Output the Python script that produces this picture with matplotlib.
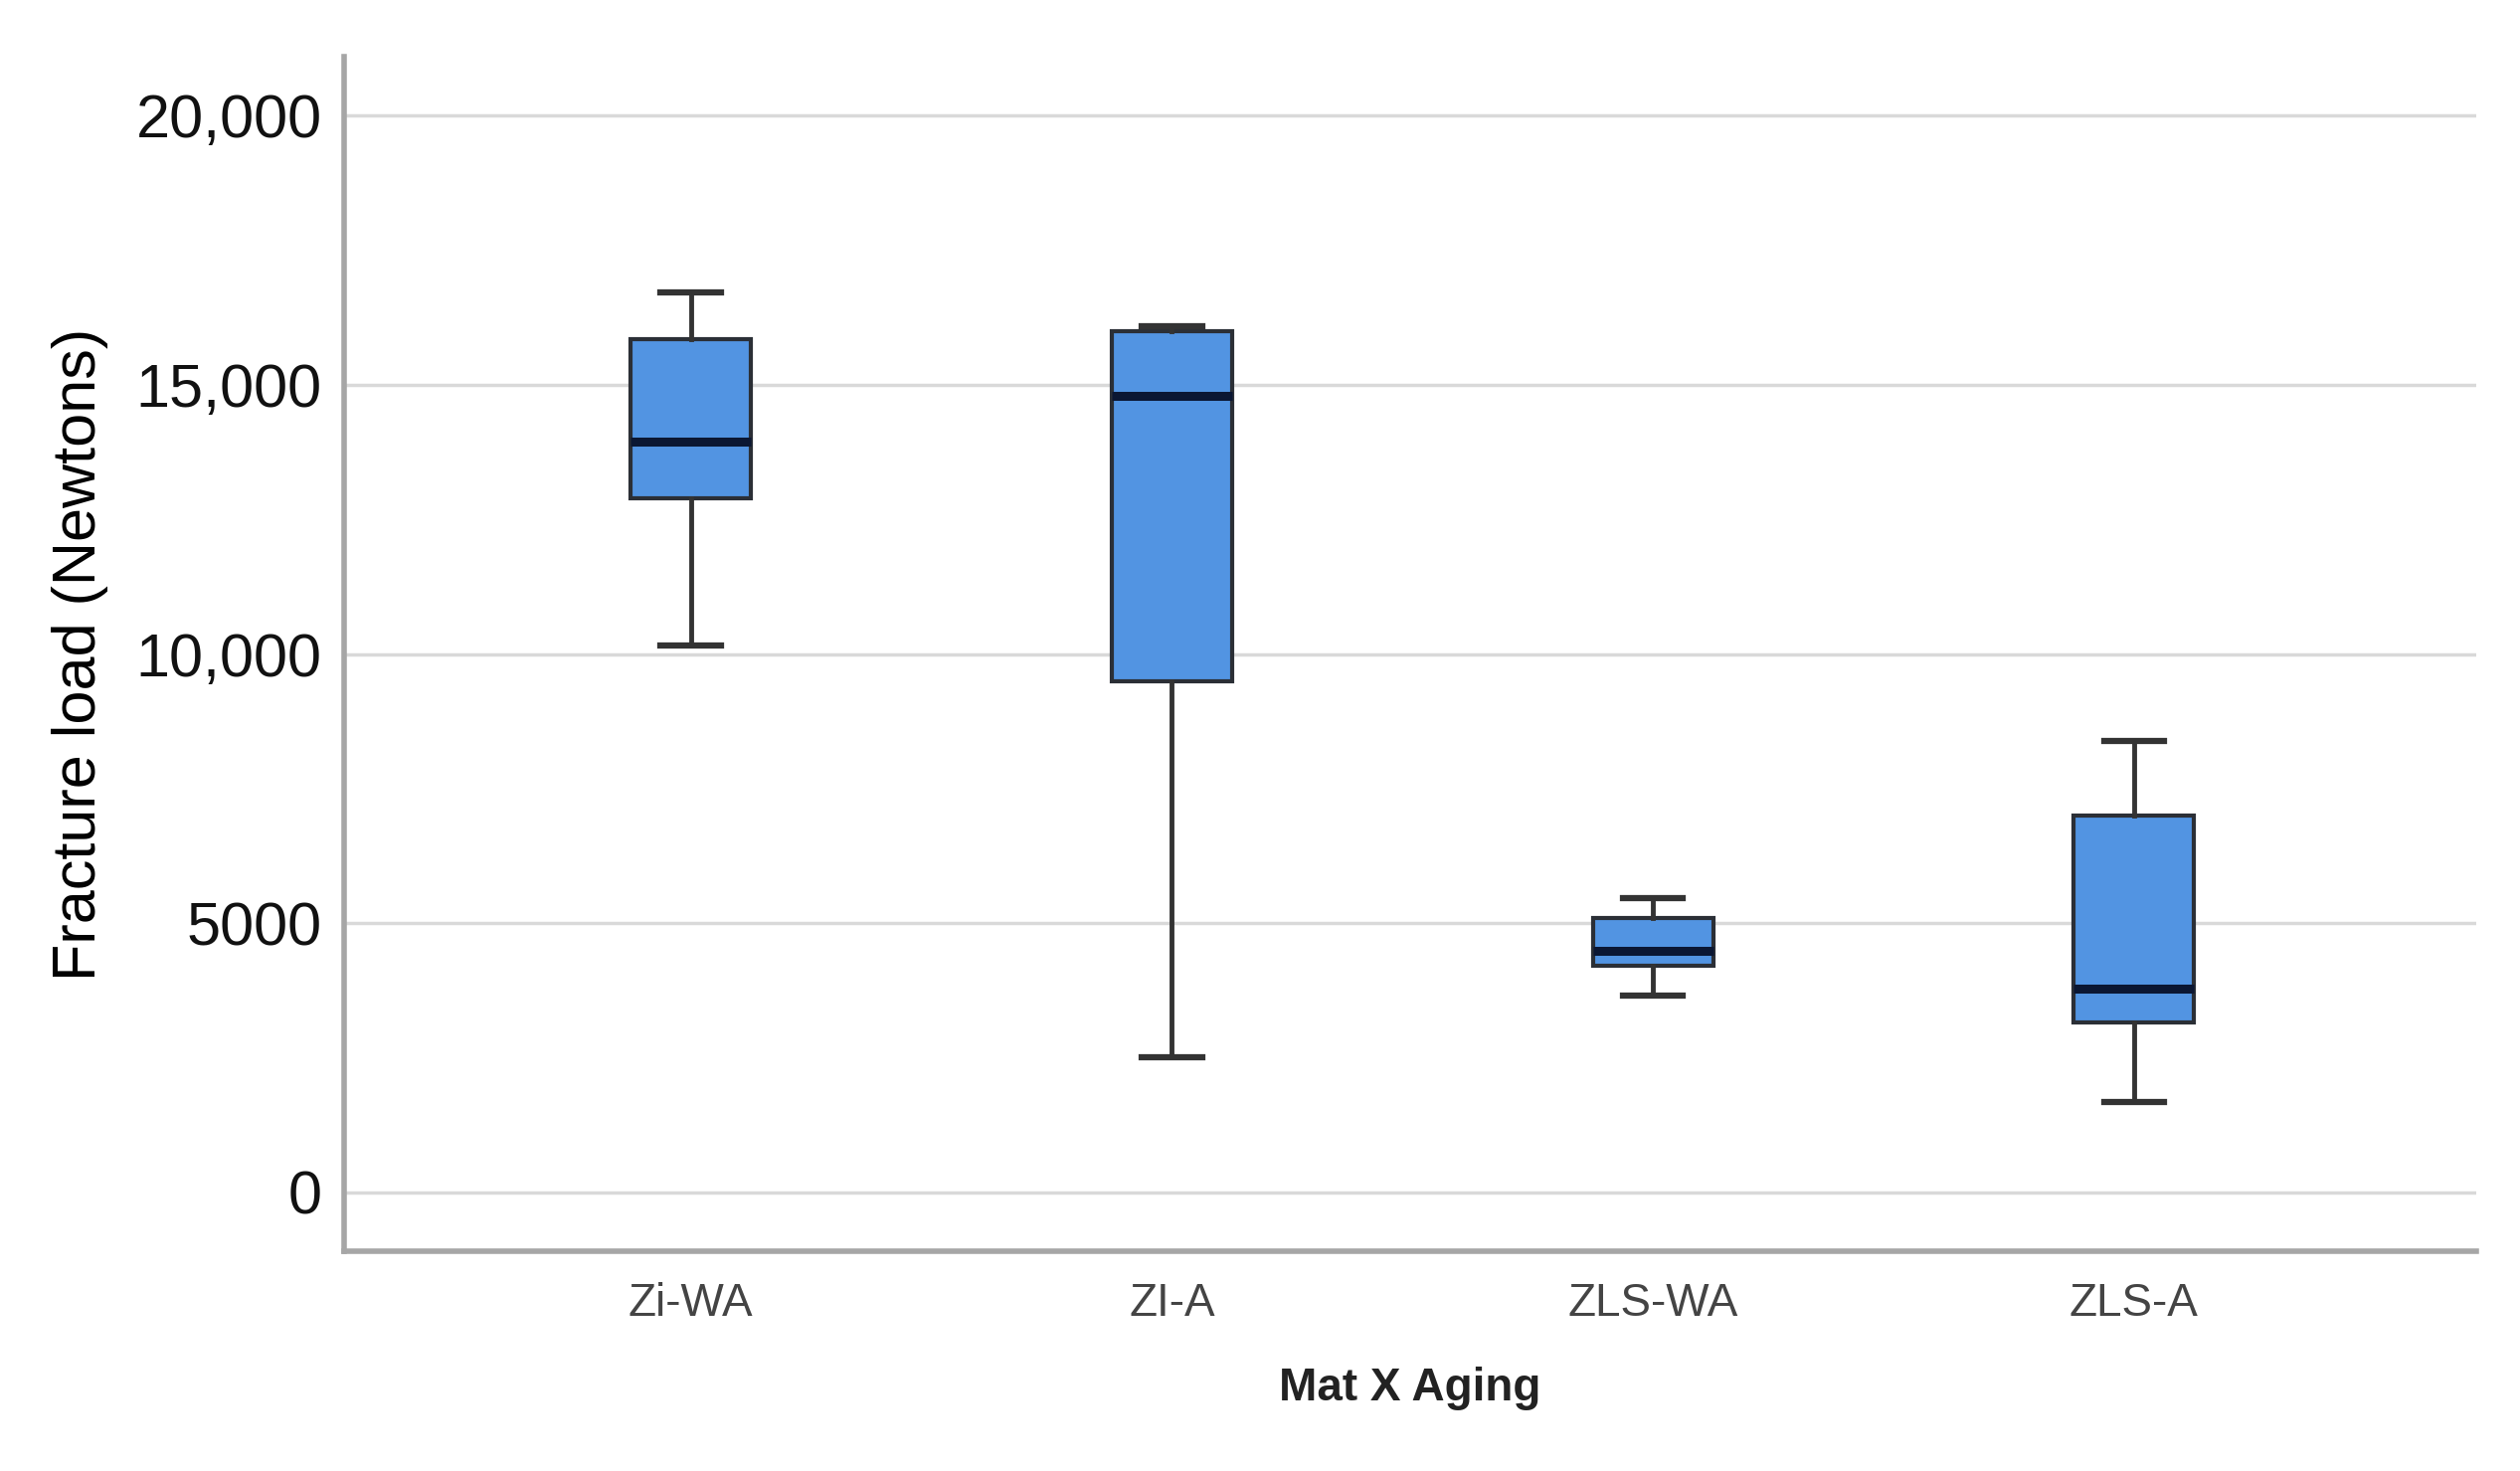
import matplotlib
matplotlib.use("Agg")
import matplotlib.pyplot as plt
from matplotlib import font_manager

categories = ["Zi-WA", "ZI-A", "ZLS-WA", "ZLS-A"]
whisker_low = [10150, 2500, 3650, 1670]
q1 = [12900, 9500, 4210, 3160]
median = [13940, 14800, 4480, 3790]
q3 = [15850, 16000, 5100, 6990]
whisker_high = [16720, 16090, 5460, 8390]
yticks = [0, 5000, 10000, 15000, 20000]
yticklabels = ["0", "5000", "10,000", "15,000", "20,000"]

names = {f.name for f in font_manager.fontManager.ttflist}
narrow = "Liberation Sans Narrow" if "Liberation Sans Narrow" in names else "Liberation Sans"

fig = plt.figure(figsize=(25.34, 14.79), dpi=100)
ax = fig.add_axes([0.1365, 0.1493, 0.8460, 0.8122])

stats = []
for i, c in enumerate(categories):
    stats.append(dict(label=c, whislo=whisker_low[i], q1=q1[i], med=median[i],
                      q3=q3[i], whishi=whisker_high[i], fliers=[]))

ax.bxp(stats, positions=range(len(categories)), widths=0.25, capwidths=0.125,
       patch_artist=True, showfliers=False,
       boxprops=dict(facecolor="#5294e2", edgecolor="#2b2f36", linewidth=3),
       medianprops=dict(color="#0b1733", linewidth=6.5, solid_capstyle="butt"),
       whiskerprops=dict(color="#333333", linewidth=3.5),
       capprops=dict(color="#333333", linewidth=4.5))

ax.set_xlim(-0.721, 3.711)
ax.set_ylim(-1100, 21100)
ax.set_yticks(yticks)
ax.set_yticklabels(yticklabels, fontsize=44, family="Liberation Sans", color="#111111")
ax.set_xticks(range(len(categories)))
ax.set_xticklabels(categories, fontsize=33, family=narrow, color="#444444")
ax.tick_params(axis="both", length=0)
ax.tick_params(axis="y", pad=16)
ax.tick_params(axis="x", pad=22)
ax.yaxis.grid(True, color="#d9d9d9", linewidth=2.5)
ax.set_axisbelow(True)
for s in ["top", "right"]:
    ax.spines[s].set_visible(False)
for s in ["left", "bottom"]:
    ax.spines[s].set_color("#a6a6a6")
    ax.spines[s].set_linewidth(4)

ax.set_ylabel("Fracture load (Newtons)", fontsize=44, family="Liberation Sans", labelpad=20)
ax.set_xlabel("Mat X Aging", fontsize=33, family=narrow, fontweight="bold",
              color="#222222", labelpad=30)

fig.savefig("out.png", dpi=100, facecolor="white")
